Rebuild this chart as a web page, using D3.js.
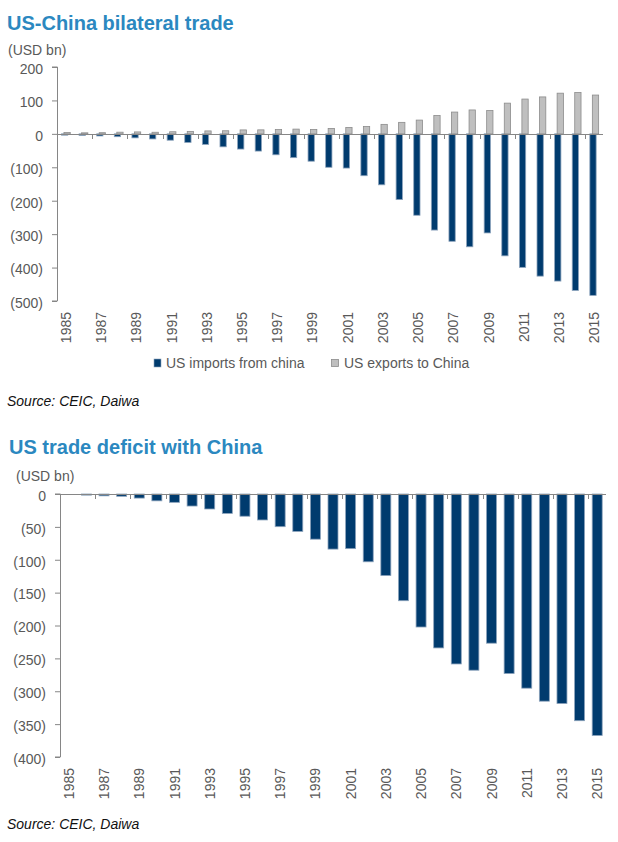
<!DOCTYPE html>
<html>
<head>
<meta charset="utf-8">
<script src="https://cdn.jsdelivr.net/npm/d3@7/dist/d3.min.js"></script>
<style>
html, body { margin: 0; padding: 0; background: #fff; }
svg { display: block; }
text { font-family: "Liberation Sans", Arial, sans-serif; }
</style>
</head>
<body>
<svg id="chart" width="618" height="842"></svg>
<script>
// ---- data ----
const years = [1985,1986,1987,1988,1989,1990,1991,1992,1993,1994,1995,1996,1997,1998,1999,2000,
               2001,2002,2003,2004,2005,2006,2007,2008,2009,2010,2011,2012,2013,2014,2015];
const usImportsFromChina = [-3.9,-4.8,-6.3,-8.5,-12.0,-15.2,-19.0,-25.7,-31.5,-38.8,-45.5,-51.5,-62.6,-71.2,-81.8,-100.0,
               -102.3,-125.2,-152.4,-196.7,-243.5,-287.8,-321.4,-337.8,-296.4,-364.9,-399.4,-425.6,-440.4,-468.5,-483.2];
const usExportsToChina = [3.9,3.1,3.5,5.0,5.8,4.8,6.3,7.4,8.8,9.3,11.8,12.0,12.9,14.2,13.1,16.2,
               19.2,22.1,28.4,34.4,41.2,55.2,65.2,71.5,69.6,91.9,104.1,110.5,121.7,123.7,116.1];
const tradeDeficit = [0,-1.7,-2.8,-3.5,-6.2,-10.4,-12.7,-18.3,-22.8,-29.5,-33.8,-39.5,-49.7,-56.9,-68.7,-83.8,
               -83.1,-103.1,-124.1,-162.3,-202.3,-234.1,-258.5,-268.0,-226.9,-273.1,-295.3,-315.1,-318.7,-344.8,-367.3];
const topTicks = [200,100,0,-100,-200,-300,-400,-500];
const bottomTicks = [0,-50,-100,-150,-200,-250,-300,-350,-400];
const yearLabels = [1985,1987,1989,1991,1993,1995,1997,1999,2001,2003,2005,2007,2009,2011,2013,2015];
const seriesNames = ["US imports from china", "US exports to China"];

// ---- styles ----
const NAVY = "#003B6E", NAVY_EDGE = "#8CA3BC";
const GREY = "#BFBFBF", GREY_EDGE = "#8C8C8C";
const AXIS = "#868686", LABEL = "#595959", TITLE = "#2B88C0";
const fmt = v => v < 0 ? "(" + Math.abs(v) + ")" : String(v);

const svg = d3.select("#chart");

function drawTitle(txt, x, y) {
  svg.append("text").attr("x", x).attr("y", y)
    .attr("font-size", 20).attr("font-weight", "bold").attr("fill", TITLE).text(txt);
}
function drawText(txt, x, y, opts = {}) {
  return svg.append("text").attr("x", x).attr("y", y)
    .attr("font-size", opts.size || 14).attr("fill", opts.fill || LABEL)
    .attr("font-style", opts.italic ? "italic" : null)
    .attr("text-anchor", opts.anchor || "start").text(txt);
}

function yAxis(y, ticks, x0, top, bottom) {
  const g = svg.append("g").attr("transform", `translate(${x0},0)`);
  const ax = d3.axisLeft(y).tickValues(ticks).tickFormat(fmt).tickSize(5).tickPadding(9);
  g.call(ax);
  g.select(".domain").attr("stroke", AXIS).attr("d", `M-5,${top}H0.5V${bottom}H-5`);
  g.selectAll(".tick line").attr("stroke", AXIS);
  g.selectAll(".tick text").attr("fill", LABEL).attr("font-size", 14)
    .attr("font-family", '"Liberation Sans", Arial, sans-serif').attr("dy", "0.45em");
}

function xAxis(x, zeroY, labelY) {
  // zero line
  const r = x.range();
  svg.append("line").attr("x1", r[0]).attr("x2", r[1]).attr("y1", zeroY + 0.5).attr("y2", zeroY + 0.5)
    .attr("stroke", AXIS).attr("stroke-width", 1);
  // tick marks every 2 categories at band boundaries
  const tickYears = years.filter((d, i) => i % 2 === 0);
  svg.append("g").selectAll("line").data(tickYears).join("line")
    .attr("x1", d => Math.round(x(d)) + 0.5).attr("x2", d => Math.round(x(d)) + 0.5)
    .attr("y1", zeroY).attr("y2", zeroY + 5).attr("stroke", AXIS);
  // rotated year labels
  svg.append("g").selectAll("text").data(yearLabels).join("text")
    .attr("transform", d => `translate(${x(d) + x.bandwidth() / 2},${labelY}) rotate(-90)`)
    .attr("text-anchor", "end").attr("dy", "0.36em")
    .attr("font-size", 14).attr("fill", LABEL).text(d => d);
}

// ================= Chart 1 =================
drawTitle("US-China bilateral trade", 7, 30);
drawText("(USD bn)", 8, 55);

const x1 = d3.scaleBand().domain(years).range([57, 603]);
const y1 = d3.scaleLinear().domain([-500, 200]).range([301, 67]);
const bw1 = 6.3;

// imports (negative)
svg.append("g").selectAll("rect").data(years).join("rect")
  .attr("x", (d, i) => x1(d) + x1.bandwidth() / 2 - 1.2 - bw1 / 2)
  .attr("width", bw1)
  .attr("y", (d, i) => y1(0))
  .attr("height", (d, i) => y1(usImportsFromChina[i]) - y1(0))
  .attr("fill", NAVY).attr("stroke", NAVY_EDGE).attr("stroke-width", 0.8);
// exports (positive)
svg.append("g").selectAll("rect").data(years).join("rect")
  .attr("x", (d, i) => x1(d) + x1.bandwidth() / 2 + 1.3 - bw1 / 2)
  .attr("width", bw1)
  .attr("y", (d, i) => y1(usExportsToChina[i]))
  .attr("height", (d, i) => y1(0) - y1(usExportsToChina[i]))
  .attr("fill", GREY).attr("stroke", GREY_EDGE).attr("stroke-width", 0.8);

yAxis(y1, topTicks, 57, y1(200), y1(-500));
xAxis(x1, Math.round(y1(0)), 312);

// legend
svg.append("rect").attr("x", 154).attr("y", 359).attr("width", 7).attr("height", 8)
  .attr("fill", NAVY).attr("stroke", NAVY_EDGE).attr("stroke-width", 0.6);
drawText(seriesNames[0], 166, 368);
svg.append("rect").attr("x", 331.5).attr("y", 359.5).attr("width", 7).attr("height", 7)
  .attr("fill", GREY).attr("stroke", GREY_EDGE).attr("stroke-width", 0.8);
drawText(seriesNames[1], 344, 368);

drawText("Source: CEIC, Daiwa", 7, 406, { fill: "#111", italic: true });

// ================= Chart 2 =================
drawTitle("US trade deficit with China", 9, 454);
drawText("(USD bn)", 16, 481);

const x2 = d3.scaleBand().domain(years).range([60, 606]);
const y2 = d3.scaleLinear().domain([-400, 0]).range([757, 494]);
const bw2 = 10;

svg.append("g").selectAll("rect").data(years).join("rect")
  .attr("x", d => x2(d) + x2.bandwidth() / 2 - bw2 / 2)
  .attr("width", bw2)
  .attr("y", y2(0))
  .attr("height", (d, i) => y2(tradeDeficit[i]) - y2(0))
  .attr("fill", NAVY).attr("stroke", NAVY_EDGE).attr("stroke-width", 0.8);

yAxis(y2, bottomTicks, 60, y2(0), y2(-400));
xAxis(x2, Math.round(y2(0)), 768);

drawText("Source: CEIC, Daiwa", 7, 829, { fill: "#111", italic: true });
</script>
</body>
</html>
